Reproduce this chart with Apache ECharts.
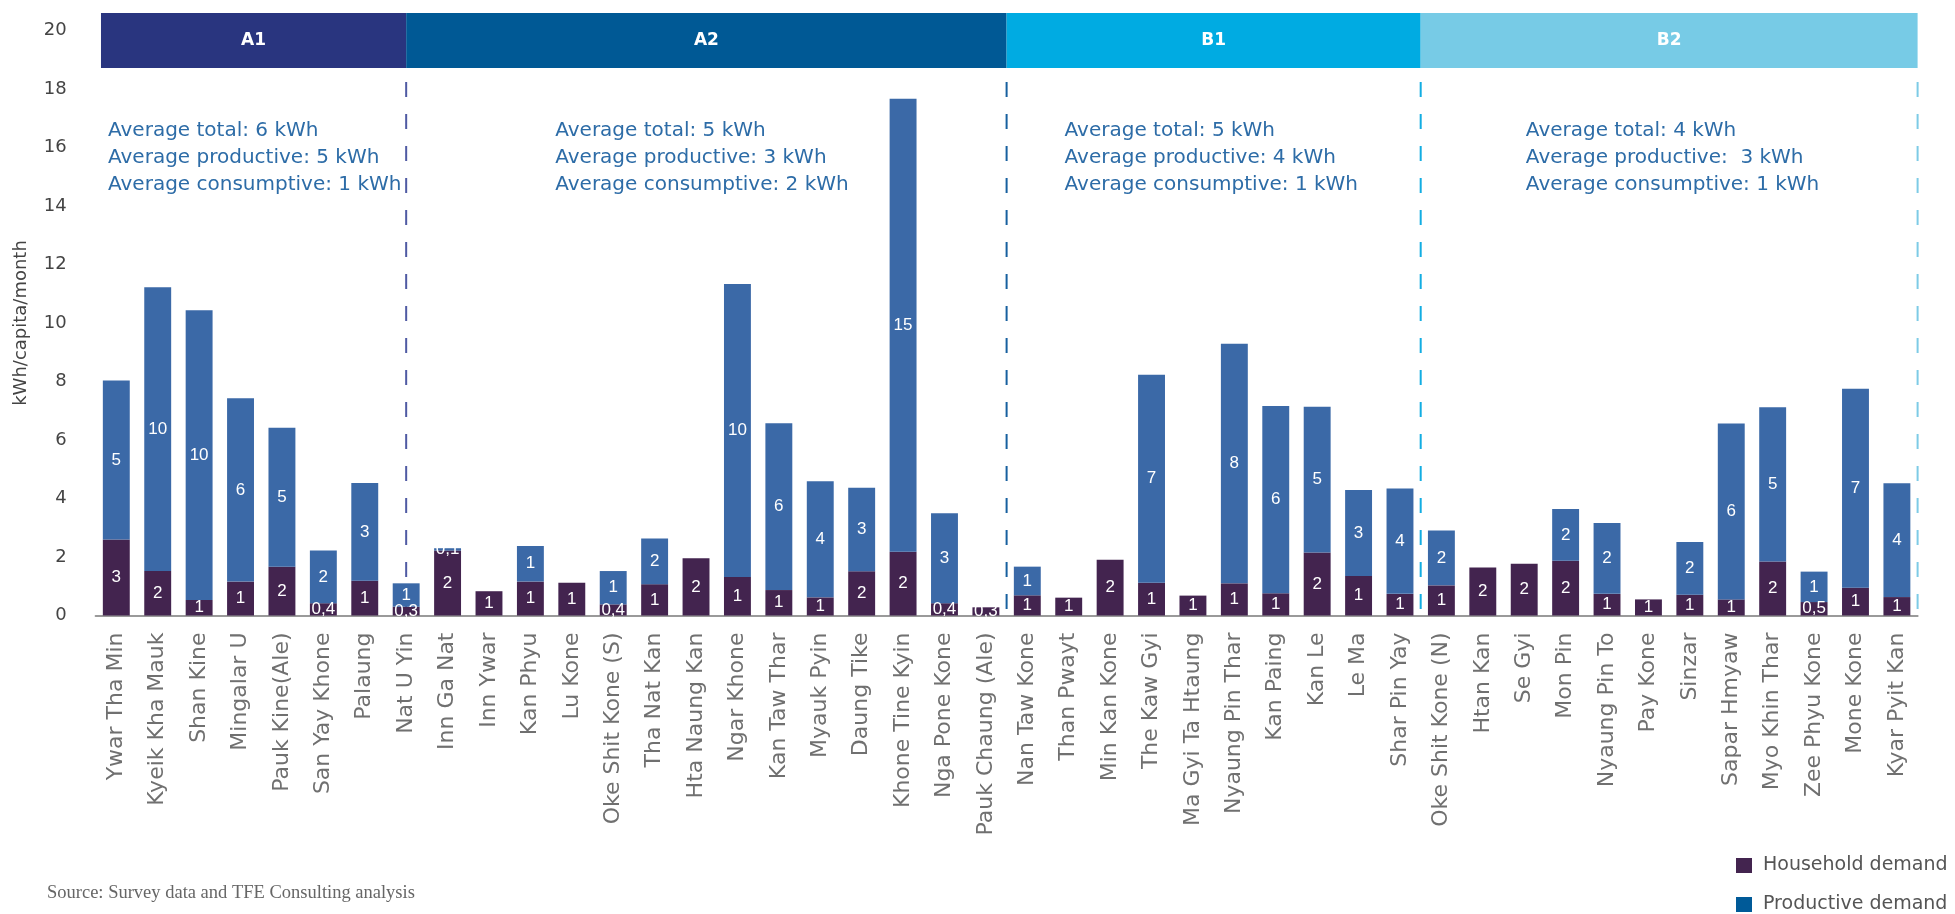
<!DOCTYPE html>
<html>
<head>
<meta charset="utf-8">
<title>Electricity demand per capita by village</title>
<script src="https://cdn.jsdelivr.net/npm/echarts@6/dist/echarts.min.js"></script>
<style>
  html, body { margin: 0; padding: 0; background: #ffffff; }
  #chart { width: 1955px; height: 914px; }
</style>
</head>
<body>
<div id="chart"></div>
<script>
// Villages, in display order
const categories = [
  'Ywar Tha Min', 'Kyeik Kha Mauk', 'Shan Kine', 'Mingalar U', 'Pauk Kine(Ale)', 'San Yay Khone', 'Palaung',
  'Nat U Yin', 'Inn Ga Nat', 'Inn Ywar', 'Kan Phyu', 'Lu Kone', 'Oke Shit Kone (S)', 'Tha Nat Kan',
  'Hta Naung Kan', 'Ngar Khone', 'Kan Taw Thar', 'Myauk Pyin', 'Daung Tike', 'Khone Tine Kyin',
  'Nga Pone Kone', 'Pauk Chaung (Ale)', 'Nan Taw Kone', 'Than Pwayt', 'Min Kan Kone', 'The Kaw Gyi',
  'Ma Gyi Ta Htaung', 'Nyaung Pin Thar', 'Kan Paing', 'Kan Le', 'Le Ma', 'Shar Pin Yay',
  'Oke Shit Kone (N)', 'Htan Kan', 'Se Gyi', 'Mon Pin', 'Nyaung Pin To', 'Pay Kone', 'Sinzar',
  'Sapar Hmyaw', 'Myo Khin Thar', 'Zee Phyu Kone', 'Mone Kone', 'Kyar Pyit Kan'
];

// Household (consumptive) demand, kWh/capita/month
const household = [
  2.60, 1.52, 0.53, 1.16, 1.67, 0.42, 1.19, 0.30, 2.22, 0.83, 1.16, 1.12, 0.38, 1.07,
  1.96, 1.32, 0.87, 0.62, 1.51, 2.18, 0.42, 0.28, 0.69, 0.61, 1.91, 1.12, 0.68, 1.10,
  0.76, 2.15, 1.35, 0.74, 1.03, 1.64, 1.77, 1.87, 0.74, 0.55, 0.71, 0.55, 1.85, 0.46,
  0.95, 0.63
];

// Productive demand, kWh/capita/month
const productive = [
  5.43, 9.70, 9.91, 6.27, 4.75, 1.80, 3.34, 0.80, 0.08, 0, 1.22, 0, 1.14, 1.56,
  0, 10.01, 5.70, 3.97, 2.86, 15.49, 3.08, 0, 0.98, 0, 0, 7.11, 0, 8.19,
  6.40, 4.99, 2.94, 3.60, 1.88, 0, 0, 1.77, 2.42, 0, 1.80, 6.01, 5.27, 1.04,
  6.80, 3.89
];

// Y axis ticks
const yTicks = { min: 0, max: 20, step: 2 };

// Village groups and their summary notes
const groupNames = ['A1', 'A2', 'B1', 'B2'];
const groupNotes = [
  ['Average total: 6 kWh', 'Average productive: 5 kWh', 'Average consumptive: 1 kWh'],
  ['Average total: 5 kWh', 'Average productive: 3 kWh', 'Average consumptive: 2 kWh'],
  ['Average total: 5 kWh', 'Average productive: 4 kWh', 'Average consumptive: 1 kWh'],
  ['Average total: 4 kWh', 'Average productive:  3 kWh', 'Average consumptive: 1 kWh']
];

const seriesNames = ['Household demand', 'Productive demand'];
const sourceNote = 'Source: Survey data and TFE Consulting analysis';

// ---- styling / layout ----
const COLORS = {
  household: '#43244f',
  productive: '#3b69a7',
  productiveKey: '#005a98',
  bands: ['#29357f', '#005995', '#00abe2', '#77cbe6'],
  dividers: ['#4f5aa3', '#17609f', '#12ade2', '#7dcbe6'],
  note: '#2d6ca7'
};
const SANS = "'DejaVu Sans', 'Noto Sans', sans-serif";
// group edges and note anchors, in category-slot units
const bandEdges = [-0.37, 7, 21.5, 31.5, 43.5];
const noteAnchors = [-0.2, 10.6, 22.9, 34.04];

function valueLabel(p) {
  const v = p.value;
  if (!v) return '';
  if (v < 0.5) return v.toFixed(1).replace('.', ',');
  return String(Math.round(v));
}

const chart = echarts.init(document.getElementById('chart'), null, { renderer: 'canvas' });

const barLabel = {
  show: true,
  position: 'inside',
  color: '#ffffff',
  fontFamily: "'Liberation Sans Narrow', 'Liberation Sans', sans-serif",
  fontSize: 17,
  formatter: valueLabel
};

chart.setOption({
  animation: false,
  backgroundColor: '#ffffff',
  grid: { left: 95.6, right: 37.4, top: 30.5, bottom: 298.5, containLabel: false },
  legend: {
    orient: 'vertical',
    left: 1736,
    top: 856,
    padding: 0,
    itemWidth: 16,
    itemHeight: 15,
    itemGap: 20,
    icon: 'rect',
    textStyle: { fontFamily: SANS, fontSize: 19, lineHeight: 19, color: '#555555', padding: [0, 0, 0, 6] },
    data: [
      { name: seriesNames[0], itemStyle: { color: COLORS.household } },
      { name: seriesNames[1], itemStyle: { color: COLORS.productiveKey } }
    ]
  },
  xAxis: {
    type: 'category',
    data: categories,
    axisLine: { lineStyle: { color: '#9a9a9a', width: 2 } },
    axisTick: { show: false },
    axisLabel: {
      rotate: 90,
      interval: 0,
      margin: 17,
      fontFamily: SANS,
      fontSize: 22,
      color: '#707070'
    }
  },
  yAxis: {
    type: 'value',
    min: yTicks.min,
    max: yTicks.max,
    interval: yTicks.step,
    name: 'kWh/capita/month',
    nameLocation: 'middle',
    nameGap: 65,
    nameTextStyle: { fontFamily: SANS, fontSize: 18, color: '#444444' },
    axisLine: { show: false },
    axisTick: { show: false },
    splitLine: { show: false },
    axisLabel: { fontFamily: SANS, fontSize: 18, color: '#444444', margin: 29 }
  },
  series: [
    {
      name: seriesNames[0],
      type: 'bar',
      stack: 'demand',
      data: household,
      barCategoryGap: '35%',
      itemStyle: { color: COLORS.household },
      label: barLabel,
      z: 3
    },
    {
      name: seriesNames[1],
      type: 'bar',
      stack: 'demand',
      data: productive,
      barCategoryGap: '35%',
      itemStyle: { color: COLORS.productive },
      label: barLabel,
      z: 3
    }
  ]
});

// Group headers, dividers and notes are placed from the category axis scale
function slotX(pos) {
  const x0 = chart.convertToPixel({ xAxisIndex: 0 }, categories[0]);
  const x1 = chart.convertToPixel({ xAxisIndex: 0 }, categories[1]);
  return x0 + pos * (x1 - x0);
}

const axisY = chart.convertToPixel({ yAxisIndex: 0 }, 0);
const graphics = [];

groupNames.forEach(function (name, i) {
  const xa = slotX(bandEdges[i]);
  const xb = slotX(bandEdges[i + 1]);
  graphics.push({
    type: 'rect',
    z: 1,
    shape: { x: xa, y: 13, width: xb - xa, height: 55 },
    style: { fill: COLORS.bands[i] }
  });
  graphics.push({
    type: 'text',
    z: 2,
    x: (xa + xb) / 2,
    y: 41,
    style: {
      text: name,
      fill: '#ffffff',
      font: "bold 17px " + SANS,
      textAlign: 'center',
      textVerticalAlign: 'middle'
    }
  });
  graphics.push({
    type: 'line',
    z: 0,
    shape: { x1: xb, y1: 82, x2: xb, y2: axisY },
    style: { stroke: COLORS.dividers[i], lineWidth: 2, lineDash: [15, 17] }
  });
  graphics.push({
    type: 'text',
    z: 2,
    x: slotX(noteAnchors[i]),
    y: 117,
    style: {
      text: groupNotes[i].join('\n'),
      fill: COLORS.note,
      font: "20px " + SANS,
      lineHeight: 27,
      textAlign: 'left',
      textVerticalAlign: 'top'
    }
  });
});

graphics.push({
  type: 'text',
  x: 47,
  y: 893,
  style: {
    text: sourceNote,
    fill: '#666666',
    font: "18.5px 'Liberation Serif', 'DejaVu Serif', serif",
    textAlign: 'left',
    textVerticalAlign: 'middle'
  }
});

chart.setOption({ graphic: graphics });
</script>
</body>
</html>
